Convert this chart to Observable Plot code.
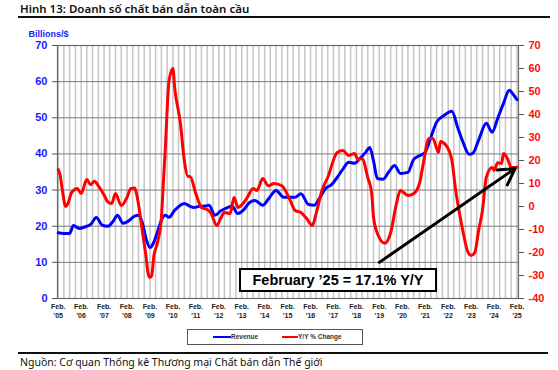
<!DOCTYPE html>
<html><head><meta charset="utf-8">
<script src="https://cdn.jsdelivr.net/npm/d3@7"></script>
<script src="https://cdn.jsdelivr.net/npm/@observablehq/plot@0.6"></script>
<style>
body{margin:0;background:#fff;}
#wrap{position:relative;width:558px;height:370px;overflow:hidden;font-family:"Liberation Sans",Arial,sans-serif;background:#fff;}
#title{position:absolute;left:20px;top:1px;font-family:"Noto Sans",sans-serif;font-weight:600;font-size:11.5px;color:#111;white-space:nowrap;}
#tline{position:absolute;left:18px;top:16px;width:532px;height:2px;background:#111;}
#chart{position:absolute;left:0;top:20px;}
#anno{position:absolute;left:239px;top:268px;width:198px;height:24px;box-sizing:border-box;border:2px solid #000;background:#fff;font-weight:bold;font-size:14.5px;text-align:center;line-height:20px;color:#000;white-space:nowrap;}
#legend{position:absolute;left:187px;top:329px;width:176px;height:16px;box-sizing:border-box;border:1px solid #555;background:#fff;}
.lg{position:absolute;top:3px;font-weight:bold;font-size:6.5px;color:#333;white-space:nowrap;line-height:8px;}
.sw{position:absolute;top:6px;height:2px;}
#cline{position:absolute;left:18px;top:352px;width:530px;height:1.5px;background:#111;}
#caption{position:absolute;left:20px;top:355px;font-family:"Noto Sans",sans-serif;font-size:10.5px;color:#111;white-space:nowrap;}
</style></head>
<body>
<div id="wrap">
  <div id="title">Hình 13: Doanh số chất bán dẫn toàn cầu</div>
  <div id="tline"></div>
  <div id="chart"></div>
  <div id="anno">February ’25 = 17.1% Y/Y</div>
  <div id="legend">
    <div class="sw" style="left:25px;width:18px;background:#0000ff"></div>
    <div class="lg" style="left:43px">Revenue</div>
    <div class="sw" style="left:94px;width:16px;background:#ff0000"></div>
    <div class="lg" style="left:110px">Y/Y % Change</div>
  </div>
  <div id="cline"></div>
  <div id="caption">Nguồn: Cơ quan Thống kê Thương mại Chất bán dẫn Thế giới</div>
</div>
<script>
// ---- data ----
const revDates = ["2005-02","2005-05","2005-08","2005-10","2006-01","2006-04","2006-07","2006-10","2007-01","2007-04","2007-07","2007-09","2007-12","2008-03","2008-06","2008-08","2008-10","2008-12","2009-02","2009-04","2009-06","2009-08","2009-10","2009-12","2010-03","2010-06","2010-08","2010-11","2011-01","2011-04","2011-07","2011-09","2011-12","2012-03","2012-06","2012-09","2012-12","2013-03","2013-06","2013-09","2014-01","2014-04","2014-08","2014-12","2015-03","2015-06","2015-09","2016-01","2016-04","2016-07","2016-10","2017-01","2017-04","2017-07","2017-10","2018-01","2018-04","2018-07","2018-09","2018-11","2019-01","2019-04","2019-07","2019-10","2020-01","2020-05","2020-08","2020-11","2021-02","2021-05","2021-08","2021-12","2022-04","2022-07","2022-10","2023-01","2023-03","2023-06","2023-10","2024-01","2024-04","2024-07","2024-10","2024-12","2025-02"];
const revValues = [18.2,18.0,18.0,20.2,19.4,19.8,20.5,22.4,20.3,20.0,21.5,23.0,20.8,21.5,22.8,23.0,21.0,16.5,14.1,15.5,18.5,21.6,23.0,22.5,24.4,25.8,26.3,25.5,25.2,25.5,25.6,25.8,23.0,24.2,25.0,25.5,23.5,24.5,26.5,27.1,25.8,27.5,29.9,28.0,28.0,28.0,29.0,26.0,25.8,28.0,30.5,31.5,33.5,35.8,37.7,37.4,38.8,40.5,41.8,38.0,33.2,33.0,35.0,36.8,34.6,34.9,38.5,39.5,40.5,44.6,48.8,50.7,51.8,47.4,43.0,39.9,40.2,43.8,48.5,46.0,49.9,54.0,57.6,56.5,55.0];

const yoyDates = ["2005-02","2005-03","2005-04","2005-06","2005-07","2005-09","2005-12","2006-02","2006-05","2006-07","2006-09","2006-11","2007-02","2007-04","2007-06","2007-08","2007-11","2008-02","2008-04","2008-06","2008-07","2008-10","2008-12","2009-01","2009-02","2009-03","2009-04","2009-06","2009-08","2009-09","2009-10","2009-12","2010-02","2010-03","2010-06","2010-08","2010-10","2010-11","2011-02","2011-05","2011-08","2011-10","2012-01","2012-03","2012-05","2012-08","2012-10","2012-12","2013-03","2013-05","2013-08","2013-10","2014-01","2014-04","2014-07","2014-11","2015-03","2015-06","2015-09","2015-12","2016-03","2016-05","2016-08","2016-11","2017-04","2017-07","2017-10","2018-01","2018-03","2018-05","2018-08","2018-10","2018-11","2019-01","2019-05","2019-08","2019-11","2020-01","2020-05","2020-08","2020-11","2021-01","2021-04","2021-06","2021-09","2021-10","2022-01","2022-04","2022-06","2022-08","2022-10","2022-12","2023-02","2023-04","2023-06","2023-08","2023-10","2024-01","2024-02","2024-04","2024-06","2024-07","2024-09","2024-11","2025-02"];
const yoyValues = [16,14,8.3,0,1,6,7.8,5.6,11.7,9.5,11,9,5,2,1.3,5.6,0.4,4,7.8,8,5.6,-10.4,-22,-29,-30.9,-30,-22,-15.6,-5,10,24.3,54.8,60,51.7,36,20,13,13,5.6,-0.4,-1.3,-3,-8.3,-5.2,-2.6,-3,3.9,-0.4,1.5,4,7.8,7,12.2,9,10,9,3.5,-1.7,-2.6,-5.2,-8.3,-3,7,12.6,23.5,24.3,22.2,23,20.4,20.9,12.6,6,-4.8,-11.7,-16,-11.3,1.3,7,4.8,5.6,10,18.7,29.6,29.6,23.5,28.3,26.5,20,7,-3,-11.7,-19,-21.3,-20,-10.4,-1.7,12.6,17,15.7,19,18.7,23,20.9,17,17.1];

const leftTicks = [0,10,20,30,40,50,60,70];
const rightTicks = [-40,-30,-20,-10,0,10,20,30,40,50,60,70];
const xTickYears = [2005,2006,2007,2008,2009,2010,2011,2012,2013,2014,2015,2016,2017,2018,2019,2020,2021,2022,2023,2024,2025];
const arrowFrom = {date:"2019-02", yoy:-24.3};
const arrowTo = {date:"2025-01", yoy:16.5};

// ---- helpers ----
const parse = d3.utcParse("%Y-%m");
const toLeft = r => (r + 40) * 70 / 110;          // right-axis value -> left-axis units
const fromLeft = v => Math.round(v * 110 / 70 - 40);

const rev = revDates.map((d, i) => ({date: parse(d), value: revValues[i]}));
const yoy = yoyDates.map((d, i) => ({date: parse(d), value: toLeft(yoyValues[i])}));
const xTicks = xTickYears.map(y => new Date(Date.UTC(y, 1, 1)));
const arrows = [{x1: parse(arrowFrom.date), y1: toLeft(arrowFrom.yoy), x2: parse(arrowTo.date), y2: toLeft(arrowTo.yoy)}];

const x0 = new Date(Date.UTC(2005, 0, 20)), x1 = new Date(Date.UTC(2025, 1, 25));

const chart = Plot.plot({
  width: 558, height: 310,
  marginLeft: 57, marginRight: 40, marginTop: 25, marginBottom: 32,
  style: {fontFamily: "'Liberation Sans', Arial, sans-serif", background: "white", overflow: "visible"},
  x: {type: "utc", domain: [x0, x1]},
  y: {domain: [0, 70]},
  marks: [
    Plot.gridX({ticks: d3.utcMonth.range(parse("2005-02"), x1, 3), stroke: "#c6c6c6", strokeOpacity: 1, strokeWidth: 1.5}),
    Plot.gridY({ticks: leftTicks, stroke: "#7a7a7a", strokeOpacity: 1, strokeWidth: 1}),
    Plot.frame({stroke: "#6a6a6a", strokeWidth: 1.2}),
    Plot.axisY({ticks: leftTicks, anchor: "left", tickSize: 5, tickPadding: 5, label: null,
      fill: "#1a1aff", stroke: "#555", fontSize: 11, fontWeight: "bold"}),
    Plot.axisY({ticks: rightTicks.map(toLeft), anchor: "right", tickSize: 5, tickPadding: 5, label: null,
      tickFormat: fromLeft, fill: "#ff0a0a", stroke: "#555", fontSize: 11, fontWeight: "bold"}),
    Plot.axisX({ticks: xTicks, tickSize: 0, tickPadding: 5, label: null,
      tickFormat: d => "Feb.\n'" + String(d.getUTCFullYear()).slice(2), fill: "#222", fontSize: 7, fontWeight: "bold", lineHeight: 1.2}),
    Plot.line(rev, {x: "date", y: "value", stroke: "#0000ff", strokeWidth: 3, curve: "monotone-x"}),
    Plot.line(yoy, {x: "date", y: "value", stroke: "#ff0000", strokeWidth: 3, curve: "monotone-x"}),
    Plot.arrow(arrows, {x1: "x1", y1: "y1", x2: "x2", y2: "y2", stroke: "#000", strokeWidth: 3, headLength: 9}),
    Plot.text(["Billions/$"], {frameAnchor: "top-left", dx: -29, dy: -15, textAnchor: "start",
      fill: "#1a1aff", fontSize: 9, fontWeight: "bold"})
  ]
});
document.getElementById("chart").appendChild(chart);
</script>
</body></html>
